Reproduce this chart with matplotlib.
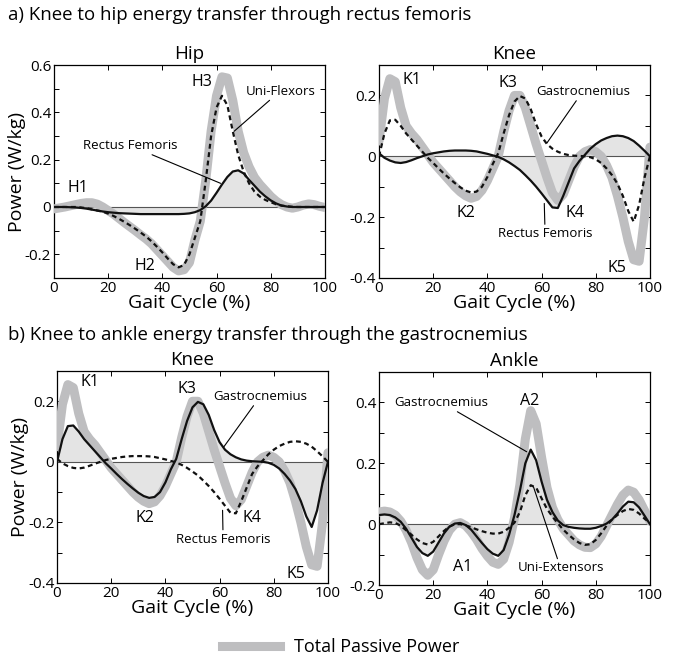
import matplotlib
matplotlib.use("Agg")
import matplotlib.pyplot as plt
from matplotlib.lines import Line2D
from matplotlib.ticker import MultipleLocator, FuncFormatter

plt.rcParams['font.family'] = ['Open Sans', 'DejaVu Sans']

gait = [0, 2, 4, 6, 8, 10, 12, 14, 16, 18, 20, 22, 24, 26, 28, 30, 32, 34, 36, 38, 40,
        42, 44, 46, 48, 50, 52, 54, 56, 58, 60, 62, 64, 66, 68, 70, 72, 74, 76, 78, 80,
        82, 84, 86, 88, 90, 92, 94, 96, 98, 100]

hip_total = [-0.008, -0.004, 0.0, 0.005, 0.01, 0.015, 0.018, 0.018, 0.012, 0.0, -0.015,
             -0.03, -0.048, -0.066, -0.083, -0.1, -0.118, -0.135, -0.155, -0.18, -0.205,
             -0.23, -0.255, -0.27, -0.265, -0.235, -0.14, -0.06, 0.11, 0.32, 0.47,
             0.55, 0.545, 0.45, 0.32, 0.23, 0.17, 0.125, 0.095, 0.07, 0.045,
             0.025, 0.01, 0.0, -0.005, 0.0, 0.008, 0.013, 0.01, 0.003, -0.002]
hip_uni = [0.0, 0.0, 0.0, 0.0, 0.0, -0.002, -0.005, -0.01, -0.015, -0.02, -0.028,
           -0.038, -0.05, -0.063, -0.077, -0.092, -0.108, -0.125, -0.145, -0.168, -0.192,
           -0.218, -0.242, -0.255, -0.245, -0.2, -0.13, -0.06, 0.11, 0.3, 0.42,
           0.47, 0.43, 0.32, 0.22, 0.15, 0.1, 0.065, 0.044, 0.03, 0.02,
           0.012, 0.006, 0.003, 0.001, 0.0, 0.0, 0.0, 0.0, 0.0, 0.0]
hip_rf = [0.0, 0.0, 0.0, -0.001, -0.002, -0.004, -0.007, -0.011, -0.015, -0.019, -0.022,
          -0.024, -0.026, -0.027, -0.028, -0.029, -0.03, -0.03, -0.03, -0.03, -0.03,
          -0.03, -0.03, -0.03, -0.029, -0.027, -0.022, -0.013, 0.003, 0.027, 0.06,
          0.095, 0.127, 0.15, 0.155, 0.142, 0.115, 0.09, 0.065, 0.045, 0.028,
          0.015, 0.006, 0.002, 0.0, 0.0, 0.0, 0.0, 0.0, 0.0, 0.0]

knee_total = [0.05, 0.19, 0.255, 0.245, 0.16, 0.1, 0.075, 0.055, 0.03, 0.005, -0.02,
              -0.04, -0.06, -0.08, -0.1, -0.117, -0.13, -0.138, -0.132, -0.112, -0.08,
              -0.04, 0.0, 0.08, 0.15, 0.2, 0.2, 0.16, 0.1, 0.04, -0.015,
              -0.07, -0.12, -0.145, -0.125, -0.08, -0.035, 0.0, 0.015, 0.022, 0.015,
              0.0, -0.03, -0.07, -0.13, -0.2, -0.28, -0.34, -0.345, -0.2, 0.03]
knee_gas = [0.0, 0.075, 0.118, 0.12, 0.1, 0.075, 0.055, 0.035, 0.015, -0.005, -0.022,
            -0.04, -0.057, -0.073, -0.088, -0.102, -0.113, -0.119, -0.116, -0.1, -0.068,
            -0.025, 0.01, 0.075, 0.135, 0.18, 0.198, 0.19, 0.155, 0.105, 0.065,
            0.04, 0.025, 0.015, 0.008, 0.004, 0.002, 0.001, 0.0, -0.003, -0.01,
            -0.022, -0.04, -0.062, -0.09, -0.13, -0.18, -0.215, -0.16, -0.07, 0.0]
knee_rf = [0.01, -0.005, -0.014, -0.02, -0.022, -0.019, -0.013, -0.006, 0.0, 0.006, 0.01,
           0.013, 0.016, 0.018, 0.019, 0.019, 0.019, 0.018, 0.016, 0.012, 0.008,
           0.003, -0.002, -0.01, -0.02, -0.032, -0.045, -0.062, -0.08, -0.1, -0.122,
           -0.145, -0.168, -0.17, -0.13, -0.085, -0.04, -0.015, 0.005, 0.025, 0.04,
           0.052, 0.06, 0.066, 0.068, 0.066, 0.06, 0.05, 0.035, 0.018, 0.0]

ankle_total = [0.04, 0.043, 0.04, 0.03, 0.01, -0.02, -0.06, -0.11, -0.15, -0.168, -0.15,
               -0.1, -0.055, -0.02, 0.0, 0.005, -0.005, -0.025, -0.05, -0.08, -0.105,
               -0.125, -0.132, -0.115, -0.06, 0.02, 0.13, 0.28, 0.373, 0.33, 0.22,
               0.12, 0.055, 0.015, -0.015, -0.035, -0.055, -0.068, -0.076, -0.077, -0.065,
               -0.04, -0.005, 0.03, 0.065, 0.095, 0.112, 0.105, 0.08, 0.045, 0.01]
ankle_gas = [0.03, 0.032, 0.03, 0.022, 0.008, -0.015, -0.045, -0.075, -0.095, -0.104, -0.09,
             -0.06, -0.03, -0.008, 0.002, 0.004, -0.003, -0.018, -0.04, -0.062, -0.082,
             -0.097, -0.104, -0.085, -0.035, 0.03, 0.11, 0.2, 0.245, 0.21, 0.14,
             0.08, 0.04, 0.012, -0.003, -0.009, -0.012, -0.014, -0.015, -0.015, -0.012,
             -0.006, 0.002, 0.015, 0.035, 0.058, 0.074, 0.072, 0.055, 0.028, 0.0]
ankle_uni = [0.0, 0.003, 0.006, 0.004, -0.005, -0.02, -0.035, -0.05, -0.062, -0.067, -0.058,
             -0.04, -0.022, -0.008, 0.0, 0.0, -0.004, -0.01, -0.017, -0.023, -0.028,
             -0.031, -0.031, -0.025, -0.012, 0.005, 0.04, 0.095, 0.128, 0.12, 0.085,
             0.05, 0.025, 0.003, -0.018, -0.035, -0.05, -0.062, -0.068, -0.066, -0.052,
             -0.03, -0.005, 0.015, 0.03, 0.043, 0.05, 0.047, 0.035, 0.018, 0.005]

GRAY = '#bebec0'
FILL = '#e4e4e4'

fig = plt.figure(figsize=(6.79, 6.60), dpi=100)

def setup(ax, ylim, title):
    ax.set_xlim(0, 100)
    ax.set_ylim(*ylim)
    ax.xaxis.set_major_locator(MultipleLocator(20))
    ax.yaxis.set_major_locator(MultipleLocator(0.1))
    def fmt(v, pos):
        r = round(v * 10)
        if r % 2 != 0:
            return ''
        if r == 0:
            return '0'
        return '%.1f' % (r / 10.0)
    ax.yaxis.set_major_formatter(FuncFormatter(fmt))
    ax.tick_params(direction='in', length=3.5, width=0.7, top=True, right=True,
                   labelsize=11, pad=2)
    for s in ax.spines.values():
        s.set_linewidth(0.9)
    ax.set_xlabel('Gait Cycle (%)', fontsize=14, labelpad=-1)
    ax.set_title(title, fontsize=13.5, pad=4)

def draw(ax, total, solid, dashed):
    ax.fill_between(gait, solid, 0, color=FILL, lw=0, zorder=1)
    ax.axhline(0, color='#555555', lw=0.8, zorder=2)
    ax.plot(gait, total, color=GRAY, lw=6.5, solid_capstyle='round', zorder=3)
    ax.plot(gait, solid, color='#111111', lw=1.6, zorder=5)
    ax.plot(gait, dashed, color='#111111', lw=1.6, dashes=(2.2, 1.6), zorder=4)

def note(ax, text, xy, xytext, size=9.5):
    ax.annotate(text, xy=xy, xytext=xytext, ha='center', va='center', fontsize=size,
                arrowprops=dict(arrowstyle='-', lw=0.8, color='black', shrinkA=0, shrinkB=0),
                zorder=6)

# a) Hip
ax1 = fig.add_axes([0.0795, 0.5788, 0.399, 0.3227])
setup(ax1, (-0.3, 0.6), 'Hip')
draw(ax1, hip_total, hip_rf, hip_uni)
ax1.set_ylabel('Power (W/kg)', fontsize=14, labelpad=-1)
ax1.text(9, 0.08, 'H1', fontsize=11.5, ha='center', va='center')
ax1.text(33.5, -0.25, 'H2', fontsize=11.5, ha='center', va='center')
ax1.text(54.5, 0.53, 'H3', fontsize=11.5, ha='center', va='center')
note(ax1, 'Uni-Flexors', (66.5, 0.32), (83.5, 0.49))
note(ax1, 'Rectus Femoris', (61.5, 0.1), (28, 0.26))

# a) Knee
ax2 = fig.add_axes([0.5582, 0.5788, 0.399, 0.3227])
setup(ax2, (-0.4, 0.3), 'Knee')
draw(ax2, knee_total, knee_rf, knee_gas)
ax2.text(12, 0.25, 'K1', fontsize=11.5, ha='center', va='center')
ax2.text(32, -0.186, 'K2', fontsize=11.5, ha='center', va='center')
ax2.text(47.5, 0.24, 'K3', fontsize=11.5, ha='center', va='center')
ax2.text(72.3, -0.186, 'K4', fontsize=11.5, ha='center', va='center')
ax2.text(87.7, -0.366, 'K5', fontsize=11.5, ha='center', va='center')
note(ax2, 'Gastrocnemius', (62, 0.044), (75.2, 0.213))
note(ax2, 'Rectus Femoris', (61, -0.155), (61.3, -0.254))

# b) Knee
ax3 = fig.add_axes([0.084, 0.1167, 0.399, 0.3212])
setup(ax3, (-0.4, 0.3), 'Knee')
draw(ax3, knee_total, knee_gas, knee_rf)
ax3.set_ylabel('Power (W/kg)', fontsize=14, labelpad=-1)
ax3.text(12, 0.264, 'K1', fontsize=11.5, ha='center', va='center')
ax3.text(32.5, -0.187, 'K2', fontsize=11.5, ha='center', va='center')
ax3.text(48, 0.242, 'K3', fontsize=11.5, ha='center', va='center')
ax3.text(71.8, -0.187, 'K4', fontsize=11.5, ha='center', va='center')
ax3.text(88.3, -0.37, 'K5', fontsize=11.5, ha='center', va='center')
note(ax3, 'Gastrocnemius', (61.6, 0.05), (75, 0.216))
note(ax3, 'Rectus Femoris', (61.1, -0.16), (61.3, -0.255))

# b) Ankle
ax4 = fig.add_axes([0.5582, 0.1136, 0.399, 0.3227])
setup(ax4, (-0.2, 0.5), 'Ankle')
draw(ax4, ankle_total, ankle_gas, ankle_uni)
ax4.text(55.5, 0.405, 'A2', fontsize=11.5, ha='center', va='center')
ax4.text(31, -0.14, 'A1', fontsize=11.5, ha='center', va='center')
note(ax4, 'Gastrocnemius', (54.5, 0.238), (23, 0.4))
note(ax4, 'Uni-Extensors', (57, 0.123), (67, -0.144))

fig.text(8 / 679, 1 - 15 / 660, 'a) Knee to hip energy transfer through rectus femoris',
         fontsize=13.4, ha='left', va='center')
fig.text(8 / 679, 1 - 335 / 660, 'b) Knee to ankle energy transfer through the gastrocnemius',
         fontsize=13.4, ha='left', va='center')

handle = Line2D([], [], color=GRAY, lw=6.5)
fig.legend(handles=[handle], labels=['Total Passive Power'], loc='center left',
           bbox_to_anchor=(222 / 679, 1 - 647 / 660), frameon=False, fontsize=13,
           handlelength=3.2, handletextpad=0.8, borderpad=0, borderaxespad=0)

fig.savefig('out.png', dpi=100)
